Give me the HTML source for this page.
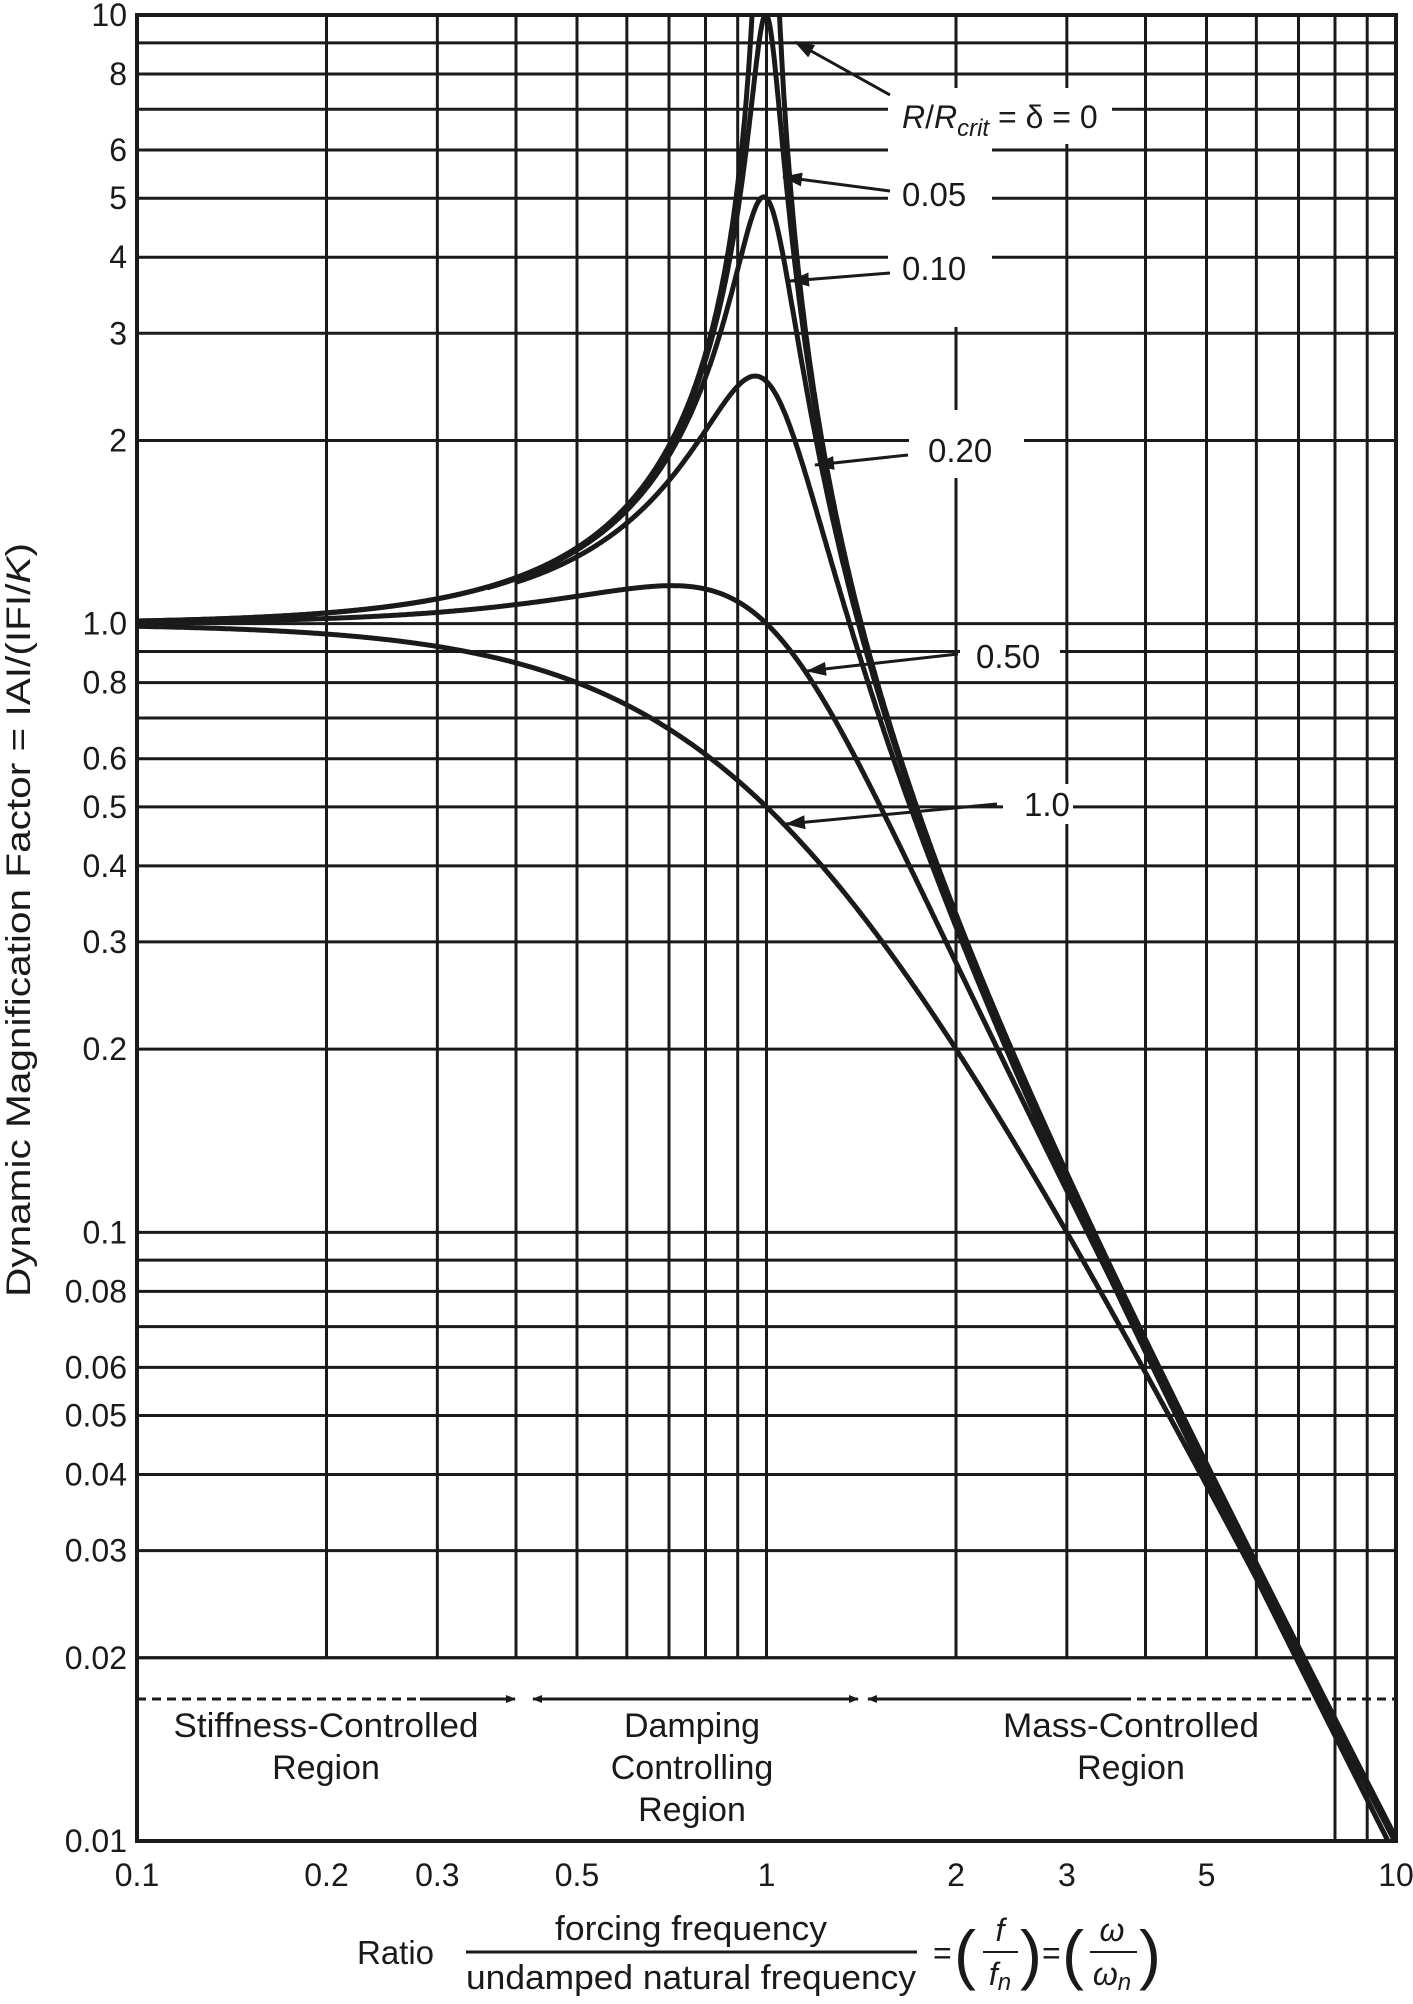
<!DOCTYPE html>
<html><head><meta charset="utf-8"><style>
html,body{margin:0;padding:0;background:#fff;}
svg{display:block;}
text{font-family:"Liberation Sans",sans-serif;fill:#1a1a1a;}
</style></head><body>
<svg id="s" width="1413" height="2004" viewBox="0 0 1413 2004" xmlns="http://www.w3.org/2000/svg">
<defs>
<clipPath id="c"><rect x="137" y="15" width="1259" height="1826"/></clipPath>
<marker id="ah" markerWidth="10" markerHeight="8" refX="9" refY="4" orient="auto" markerUnits="userSpaceOnUse"><path d="M0,0 L10,4 L0,8 z" fill="#1a1a1a"/></marker>
<marker id="ah2" markerWidth="20" markerHeight="14" refX="19" refY="7" orient="auto" markerUnits="userSpaceOnUse"><path d="M0,0 L20,7 L0,14 z" fill="#1a1a1a"/></marker>
</defs>
<g id="grid" stroke="#1a1a1a" stroke-width="3"></g>
<g id="curves" clip-path="url(#c)" fill="none" stroke="#1a1a1a" stroke-width="5"></g>
<g id="lab"></g>
</svg>
<script>
var X0=137,X1=1396,Y0=15,Y1=1841;
function X(v){return X0+(Math.log10(v)+1)*(X1-X0)/2;}
function Y(v){return Y0+(1-Math.log10(v))*(Y1-Y0)/3;}
var ns="http://www.w3.org/2000/svg";
function el(p,t,a,txt){var e=document.createElementNS(ns,t);for(var k in a)e.setAttribute(k,a[k]);if(txt!=null)e.textContent=txt;(typeof p==='string'?document.getElementById(p):p).appendChild(e);return e;}
var y02=Y(0.02);
var hs=[];
[1,0.1,0.01].forEach(function(d){for(var k=2;k<=9;k++)hs.push(k*d);});
hs.push(10,1,0.1);
hs.forEach(function(v){if(v<0.02-1e-9)return;el('grid','line',{x1:X0,x2:X1,y1:Y(v),y2:Y(v)});});
[0.1,1].forEach(function(d){for(var k=2;k<=9;k++){var v=k*d;var yb=(v>=8&&v<=9)?Y1:y02;el('grid','line',{x1:X(v),x2:X(v),y1:Y0,y2:yb});}});
el('grid','line',{x1:X(1),x2:X(1),y1:Y0,y2:y02});
el('grid','rect',{x:X0,y:Y0,width:X1-X0,height:Y1-Y0,fill:'none','stroke-width':4});
el('grid','line',{x1:X0,x2:X1,y1:y02,y2:y02});
function f(r,d){return 1/Math.sqrt(Math.pow(1-r*r,2)+Math.pow(2*d*r,2));}
function curve(d,a,b,g){var s='';var N=1500;for(var i=0;i<=N;i++){var lr=Math.log10(a)+(Math.log10(b)-Math.log10(a))*i/N;var r=Math.pow(10,lr);var v=Math.min(f(r,d),12);if(g&&r>1)v=v*Math.pow(1/r,g*Math.min(1,(r-1)/1.5));s+=(i?'L':'M')+X(r).toFixed(1)+','+Y(v).toFixed(1);}el('curves','path',{d:s});}
curve(0,0.1,0.9485);curve(0,1.0488,10);
curve(0.05,0.1,10);curve(0.1,0.36,10);curve(0.2,0.4,10,0.03);curve(0.5,0.1,10);curve(1,0.1,10);
var L=document.getElementById('lab');
function wr(x,y,w,h){el(L,'rect',{x:x,y:y,width:w,height:h,fill:'#fff'});}
wr(888,88,224,56);wr(888,144,104,183);wr(909,410,115,68);wr(960,636,100,40);wr(1003,784,70,40);
function ar(x1,y1,x2,y2){el(L,'line',{x1:x1,y1:y1,x2:x2,y2:y2,stroke:'#1a1a1a','stroke-width':3,'marker-end':'url(#ah2)'});}
ar(890,95,795,42);ar(890,191,783,177);ar(890,273,790,281);ar(908,455,815,465);ar(958,654,807,671);ar(997,804,786,824);
var t=el(L,'text',{x:902,y:128,'font-size':32});
t.innerHTML='<tspan font-style="italic">R</tspan>/<tspan font-style="italic">R</tspan><tspan font-style="italic" font-size="24" dy="8">crit</tspan><tspan dy="-8"> = δ = 0</tspan>';
el(L,'text',{x:902,y:206,'font-size':33},'0.05');
el(L,'text',{x:902,y:280,'font-size':33},'0.10');
el(L,'text',{x:928,y:462,'font-size':33},'0.20');
el(L,'text',{x:976,y:668,'font-size':33},'0.50');
el(L,'text',{x:1024,y:816,'font-size':33},'1.0');
[[10,'10'],[8,'8'],[6,'6'],[5,'5'],[4,'4'],[3,'3'],[2,'2'],[1,'1.0'],[0.8,'0.8'],[0.6,'0.6'],[0.5,'0.5'],[0.4,'0.4'],[0.3,'0.3'],[0.2,'0.2'],[0.1,'0.1'],[0.08,'0.08'],[0.06,'0.06'],[0.05,'0.05'],[0.04,'0.04'],[0.03,'0.03'],[0.02,'0.02'],[0.01,'0.01']].forEach(function(p){el(L,'text',{x:127,y:Y(p[0])+11,'font-size':32,'text-anchor':'end'},p[1]);});
[[0.1,'0.1'],[0.2,'0.2'],[0.3,'0.3'],[0.5,'0.5'],[1,'1'],[2,'2'],[3,'3'],[5,'5'],[10,'10']].forEach(function(p){el(L,'text',{x:X(p[0]),y:1886,'font-size':32,'text-anchor':'middle'},p[1]);});
var yt=el(L,'text',{x:0,y:0,'font-size':34,'text-anchor':'middle',textLength:754,lengthAdjust:'spacingAndGlyphs',transform:'translate(30,920) rotate(-90)'});
yt.innerHTML='Dynamic Magnification Factor = IAI/(IFI/<tspan font-style="italic">K</tspan>)';
var yd=1699;
el(L,'line',{x1:X0,y1:yd,x2:420,y2:yd,stroke:'#1a1a1a','stroke-width':3,'stroke-dasharray':'9,6'});
el(L,'line',{x1:420,y1:yd,x2:515,y2:yd,stroke:'#1a1a1a','stroke-width':3,'marker-end':'url(#ah)'});
el(L,'line',{x1:580,y1:yd,x2:533,y2:yd,stroke:'#1a1a1a','stroke-width':3,'marker-end':'url(#ah)'});
el(L,'line',{x1:580,y1:yd,x2:858,y2:yd,stroke:'#1a1a1a','stroke-width':3,'marker-end':'url(#ah)'});
el(L,'line',{x1:1122,y1:yd,x2:868,y2:yd,stroke:'#1a1a1a','stroke-width':3,'marker-end':'url(#ah)'});
el(L,'line',{x1:1122,y1:yd,x2:X1,y2:yd,stroke:'#1a1a1a','stroke-width':3,'stroke-dasharray':'9,6'});
function ct(x,y,s,w){var a={x:x,y:y,'font-size':34,'text-anchor':'middle'};if(w){a.textLength=w;a.lengthAdjust='spacingAndGlyphs';}el(L,'text',a,s);}
ct(326,1737,'Stiffness-Controlled',305);ct(326,1779,'Region');
ct(692,1737,'Damping');ct(692,1779,'Controlling');ct(692,1821,'Region');
ct(1131,1737,'Mass-Controlled',256);ct(1131,1779,'Region');
el(L,'text',{x:357,y:1964,'font-size':33},'Ratio');
ct(691,1940,'forcing frequency',272);
el(L,'line',{x1:466,y1:1952,x2:917,y2:1952,stroke:'#1a1a1a','stroke-width':3});
ct(691,1989,'undamped natural frequency',450);
el(L,'text',{x:933,y:1964,'font-size':32},'=');
el(L,'text',{x:954,y:1977,'font-size':66,'font-family':'Liberation Serif'},'(');
el(L,'text',{x:1000,y:1941,'font-size':32,'font-style':'italic','font-family':'Liberation Serif','text-anchor':'middle'},'f');
el(L,'line',{x1:983,y1:1952,x2:1018,y2:1952,stroke:'#1a1a1a','stroke-width':2});
var fn=el(L,'text',{x:1000,y:1985,'font-size':32,'font-style':'italic','font-family':'Liberation Serif','text-anchor':'middle'});fn.innerHTML='f<tspan font-size="24" dy="5">n</tspan>';
el(L,'text',{x:1020,y:1977,'font-size':66,'font-family':'Liberation Serif'},')');
el(L,'text',{x:1042,y:1964,'font-size':32},'=');
el(L,'text',{x:1062,y:1977,'font-size':66,'font-family':'Liberation Serif'},'(');
el(L,'text',{x:1112,y:1941,'font-size':32,'font-style':'italic','font-family':'Liberation Serif','text-anchor':'middle'},'ω');
el(L,'line',{x1:1090,y1:1952,x2:1137,y2:1952,stroke:'#1a1a1a','stroke-width':2});
var wn=el(L,'text',{x:1112,y:1985,'font-size':32,'font-style':'italic','font-family':'Liberation Serif','text-anchor':'middle'});wn.innerHTML='ω<tspan font-size="24" dy="5">n</tspan>';
el(L,'text',{x:1139,y:1977,'font-size':66,'font-family':'Liberation Serif'},')');
</script>
</body></html>
